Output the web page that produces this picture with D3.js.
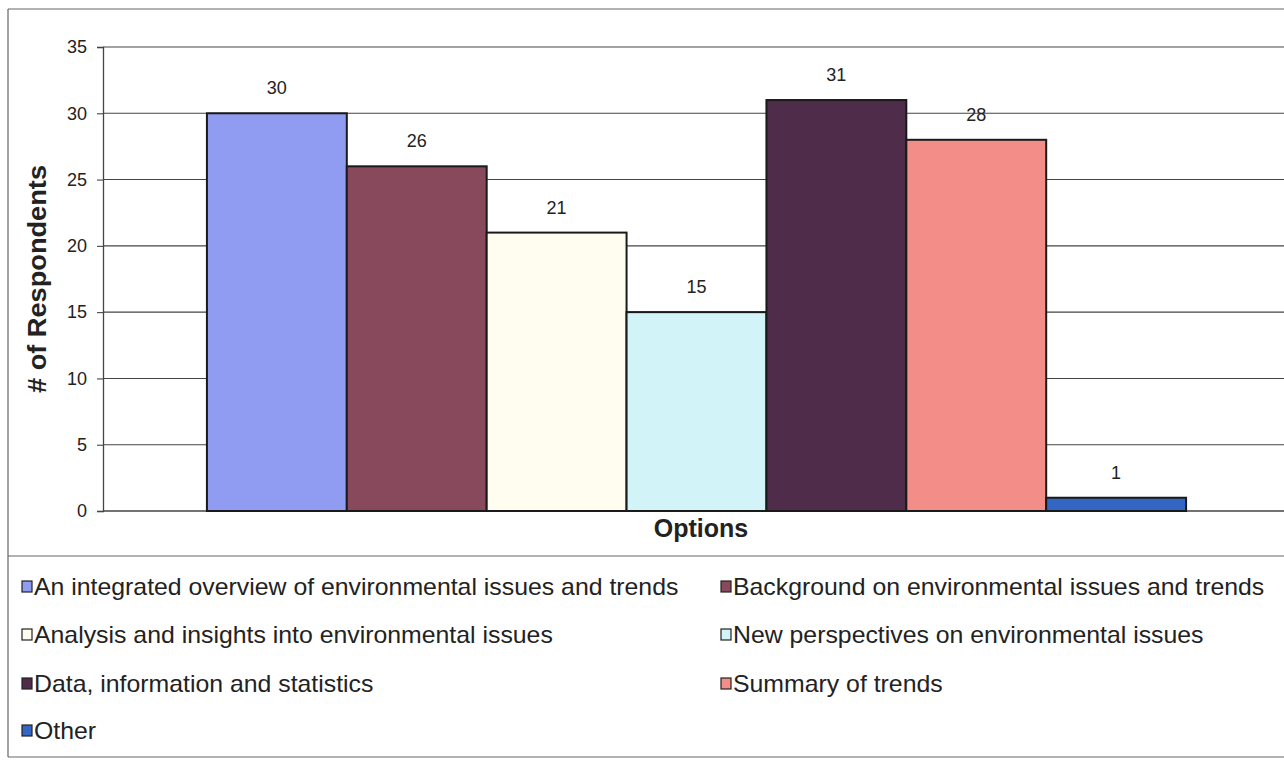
<!DOCTYPE html>
<html>
<head>
<meta charset="utf-8">
<script src="https://cdn.jsdelivr.net/npm/d3@7"></script>
<style>
  html, body { margin: 0; padding: 0; background: #fff; }
  svg { display: block; }
  text { font-family: "Liberation Sans", Arial, sans-serif; fill: #222; }
</style>
</head>
<body>
<svg id="chart" width="1284" height="760"></svg>
<script>
// Survey responses per option
const categories = [
  "An integrated overview of environmental issues and trends",
  "Background on environmental issues and trends",
  "Analysis and insights into environmental issues",
  "New perspectives on environmental issues",
  "Data, information and statistics",
  "Summary of trends",
  "Other"
];
const values = [30, 26, 21, 15, 31, 28, 1];
const colors = ["#8f9cf2", "#87495b", "#fffdf0", "#d2f3f7", "#4e2c4a", "#f28d88", "#3466c4"];
const yTicks = [0, 5, 10, 15, 20, 25, 30, 35];

const svg = d3.select("#chart");
const W = 1284, H = 760;
const plot = { left: 103, right: 1290, top: 47, bottom: 511 };

// Outer frame and legend divider
const frame = svg.append("g").attr("stroke", "#666").attr("stroke-width", 1.2).attr("fill", "none");
frame.append("line").attr("x1", 8).attr("x2", W).attr("y1", 9).attr("y2", 9);
frame.append("line").attr("x1", 8).attr("x2", 8).attr("y1", 9).attr("y2", 757);
frame.append("line").attr("x1", 8).attr("x2", W).attr("y1", 556).attr("y2", 556);
frame.append("line").attr("x1", 8).attr("x2", W).attr("y1", 757).attr("y2", 757);

const y = d3.scaleLinear().domain([0, 35]).range([plot.bottom, plot.top]);
const x = d3.scaleBand()
  .domain(categories)
  .range([plot.left, plot.right])
  .paddingInner(0)
  .paddingOuter(0.743);

// Gridlines
svg.append("g")
  .selectAll("line")
  .data(yTicks.filter(d => d > 0))
  .join("line")
  .attr("x1", plot.left).attr("x2", W)
  .attr("y1", d => y(d)).attr("y2", d => y(d))
  .attr("stroke", "#444").attr("stroke-width", 1.1);

// Y axis
const yAxis = svg.append("g")
  .attr("transform", `translate(${plot.left},0)`)
  .call(d3.axisLeft(y).tickValues(yTicks).tickSize(6).tickPadding(10));
yAxis.select(".domain").attr("stroke", "#444").attr("stroke-width", 1.3);
yAxis.selectAll(".tick line").attr("stroke", "#444").attr("stroke-width", 1.1);
yAxis.selectAll(".tick text")
  .style("font-family", "'Liberation Sans', Arial, sans-serif")
  .style("font-size", "18px").attr("fill", "#222");

// X axis baseline
svg.append("line")
  .attr("x1", plot.left).attr("x2", W)
  .attr("y1", y(0)).attr("y2", y(0))
  .attr("stroke", "#444").attr("stroke-width", 1.3);

// Bars
svg.append("g")
  .selectAll("rect")
  .data(values)
  .join("rect")
  .attr("x", (d, i) => x(categories[i]))
  .attr("y", d => y(d))
  .attr("width", x.bandwidth())
  .attr("height", d => y(0) - y(d))
  .attr("fill", (d, i) => colors[i])
  .attr("stroke", "#1a1a1a")
  .attr("stroke-width", 2);

// Value labels
svg.append("g")
  .selectAll("text")
  .data(values)
  .join("text")
  .attr("x", (d, i) => x(categories[i]) + x.bandwidth() / 2)
  .attr("y", d => y(d) - 19)
  .attr("text-anchor", "middle")
  .style("font-size", "18px")
  .text(d => d);

// Axis titles
svg.append("text")
  .attr("transform", `translate(46,${(plot.top + plot.bottom) / 2}) rotate(-90)`)
  .attr("text-anchor", "middle")
  .style("font-size", "26px").style("font-weight", "bold")
  .attr("textLength", 228).attr("lengthAdjust", "spacingAndGlyphs")
  .text("# of Respondents");
svg.append("text")
  .attr("x", 701).attr("y", 537)
  .attr("text-anchor", "middle")
  .style("font-size", "25px").style("font-weight", "bold")
  .text("Options");

// Legend, two columns
const legendCols = [22, 721];
const legendRows = [587, 635, 684, 731];
const legend = svg.append("g")
  .selectAll("g")
  .data(categories)
  .join("g")
  .attr("transform", (d, i) => `translate(${legendCols[i % 2]},${legendRows[Math.floor(i / 2)]})`);
legend.append("rect")
  .attr("x", 0).attr("y", -6).attr("width", 10).attr("height", 11)
  .attr("fill", (d, i) => colors[i])
  .attr("stroke", "#222").attr("stroke-width", 1.2);
legend.append("text")
  .attr("transform", "translate(12,8) scale(1.08,1)")
  .style("font-size", "23px")
  .text(d => d);
</script>
</body>
</html>
